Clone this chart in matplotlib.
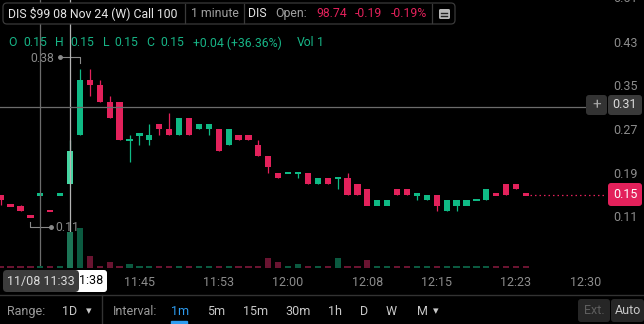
import matplotlib
matplotlib.use("Agg")
import matplotlib.pyplot as plt
from matplotlib.patches import FancyBboxPatch, Rectangle

plt.rcParams["font.family"] = ["Roboto", "DejaVu Sans"]

W, H = 644, 324

# ---------------------------------------------------------------------------
# data: 1-minute candles (one per minute from the left edge), volume
# ---------------------------------------------------------------------------
opens = [0.15, 0.13, 0.13, 0.11, 0.15, 0.12, 0.15, 0.17, 0.26, 0.36,
         0.35, 0.32, 0.32, 0.25, 0.26, 0.25, 0.28, 0.27, 0.26, 0.29,
         0.27, 0.27, 0.27, 0.24, 0.26, 0.26, 0.24, 0.22, 0.19, 0.19,
         0.19, 0.19, 0.17, 0.18, 0.18, 0.18, 0.17, 0.16, 0.13, 0.13,
         0.16, 0.16, 0.15, 0.14, 0.15, 0.12, 0.13, 0.13, 0.14, 0.14,
         0.15, 0.17, 0.17, 0.15]
highs = [0.15, 0.13, 0.13, 0.11, 0.15, 0.12, 0.15, 0.25, 0.38, 0.38,
         0.36, 0.33, 0.32, 0.26, 0.26, 0.28, 0.28, 0.30, 0.29, 0.29,
         0.28, 0.28, 0.27, 0.27, 0.26, 0.26, 0.25, 0.22, 0.19, 0.19,
         0.19, 0.19, 0.18, 0.18, 0.18, 0.19, 0.17, 0.16, 0.14, 0.14,
         0.16, 0.16, 0.15, 0.15, 0.15, 0.14, 0.14, 0.14, 0.14, 0.16,
         0.15, 0.17, 0.17, 0.15]
lows = [0.13, 0.13, 0.12, 0.11, 0.15, 0.12, 0.15, 0.17, 0.26, 0.33,
        0.32, 0.29, 0.25, 0.21, 0.24, 0.24, 0.26, 0.26, 0.26, 0.26,
        0.27, 0.26, 0.23, 0.24, 0.25, 0.25, 0.22, 0.19, 0.18, 0.19,
        0.18, 0.17, 0.17, 0.17, 0.16, 0.15, 0.15, 0.13, 0.13, 0.13,
        0.15, 0.15, 0.14, 0.14, 0.12, 0.12, 0.12, 0.13, 0.14, 0.14,
        0.15, 0.15, 0.16, 0.15]
closes = [0.14, 0.13, 0.12, 0.11, 0.15, 0.12, 0.15, 0.23, 0.36, 0.35,
          0.32, 0.29, 0.25, 0.25, 0.26, 0.26, 0.27, 0.26, 0.29, 0.26,
          0.28, 0.28, 0.23, 0.27, 0.25, 0.25, 0.22, 0.20, 0.18, 0.19,
          0.19, 0.17, 0.18, 0.17, 0.18, 0.15, 0.15, 0.13, 0.14, 0.14,
          0.15, 0.15, 0.15, 0.15, 0.13, 0.14, 0.14, 0.14, 0.14, 0.16,
          0.15, 0.15, 0.16, 0.15]
volumes = [1, 1, 1, 1, 1, 1, 1, 18, 20, 6,
           1, 3, 1, 2, 1, 1, 1, 1, 1, 1,
           1, 1, 1, 1, 1, 1, 1, 5, 3, 1,
           2, 1, 1, 1, 5, 1, 1, 4, 1, 1,
           1, 1, 1, 1, 1, 1, 1, 1, 1, 1,
           1, 1, 1, 1]

price_ticks = [0.11, 0.19, 0.27, 0.35, 0.43]
time_tick_pos = [14, 22, 29, 37, 44, 52, 59]
time_tick_labels = ["11:45", "11:53", "12:00", "12:08", "12:15", "12:23", "12:30"]

hover_idx = 4          # crosshair candle (11:33)
marker_idx = 7         # highlighted candle (11:38)
cross_price = 0.31
last_price = 0.15
high_idx, low_idx = 8, 3

GREEN = "#0fba85"
RED = "#e3215b"
GREEN_HI = "#45d6a2"
VOL_GREEN = "#0b5a40"
VOL_RED = "#6a1431"
VOL_GREEN_HI = "#1c7556"
GREY = "#8c8c8c"

# pixel <-> data helpers for the price panel
PX_PER_BAR, X0 = 9.91, 0.7
PX_PER_UNIT, Y43 = 546.0, 41.7


def px2idx(p):
    return (p - X0) / PX_PER_BAR


def py2price(p):
    return 0.43 - (p - Y43) / PX_PER_UNIT


fig = plt.figure(figsize=(W / 100, H / 100), dpi=100, facecolor="black")

ax = fig.add_axes([0, 1 - 268 / H, 605 / W, 268 / H])
ax.set_facecolor("black")
ax.set_xlim(px2idx(0), px2idx(605))
ax.set_ylim(py2price(268), py2price(0))
for s in ax.spines.values():
    s.set_visible(False)

# candle colours: up if close > open, doji compared with previous close
colors, vcolors = [], []
for i, (o, c) in enumerate(zip(opens, closes)):
    prev = closes[i - 1] if i else o
    up = c > o or (c == o and c >= prev)
    colors.append(GREEN if up else RED)
    vcolors.append(VOL_GREEN if up else VOL_RED)
colors[marker_idx] = GREEN_HI
vcolors[marker_idx] = VOL_GREEN_HI

xs = list(range(len(opens)))
min_h = 2.2 / PX_PER_UNIT
bottoms, heights = [], []
for o, c in zip(opens, closes):
    h = abs(c - o)
    if h < min_h:
        bottoms.append(c - min_h / 2)
        heights.append(min_h)
    else:
        bottoms.append(min(o, c))
        heights.append(h)

ax.vlines(xs, lows, highs, colors=colors, lw=0.9, zorder=2)
ax.bar(xs, heights, bottom=bottoms, width=0.63, color=colors, zorder=3)

# volume on a twin scale, 1 contract = 2 px
axv = ax.twinx()
axv.set_ylim(0, 134)
axv.bar(xs, volumes, width=0.63, color=vcolors, zorder=1)
axv.axis("off")

# crosshair + time marker
ax.axvline(hover_idx, color="#6c6c6c", lw=0.9, zorder=4)
ax.axvline(marker_idx, color="#b4b4b4", lw=0.9, zorder=4)
ax.axhline(cross_price, xmin=0, xmax=586 / 605, color="#6c6c6c", lw=0.9, zorder=4)

# last price dotted line
ax.plot([len(opens) - 1 + 0.45, px2idx(605)], [last_price, last_price],
        color=RED, lw=0.9, ls=(0, (1.2, 2.4)), zorder=2)

# high / low bubbles
dp = 1 / PX_PER_UNIT
hy = highs[high_idx]
ax.plot([high_idx + 0.05, high_idx + 0.05, high_idx - 2.05],
        [hy + 6 * dp, hy + 12 * dp, hy + 12 * dp], color="#8a8a8a", lw=0.8)
ax.plot(high_idx - 2.05, hy + 12 * dp, "o", color="#8a8a8a", ms=2.5)
ax.text(high_idx - 2.65, hy + 11 * dp, "0.38", color="#8a8a8a", fontsize=8.8,
        ha="right", va="center")
ly = lows[low_idx]
ax.plot([low_idx - 0.05, low_idx - 0.05, low_idx + 2.05],
        [ly - 5.5 * dp, ly - 11 * dp, ly - 11 * dp], color="#8a8a8a", lw=0.8)
ax.plot(low_idx + 2.05, ly - 11 * dp, "o", color="#8a8a8a", ms=2.5)
ax.text(low_idx + 2.55, ly - 11 * dp, "0.11", color="#8a8a8a", fontsize=8.8,
        ha="left", va="center")

# axes ticks
ax.yaxis.tick_right()
ax.set_yticks(price_ticks)
ax.set_yticklabels([f"{v:.2f}" for v in price_ticks])
ax.tick_params(axis="y", length=0, pad=5.8, labelsize=9, labelcolor=GREY)
ax.set_xticks(time_tick_pos)
ax.set_xticklabels(time_tick_labels)
ax.tick_params(axis="x", length=0, pad=6, labelsize=9, labelcolor=GREY)

# ---------------------------------------------------------------------------
# UI chrome overlay in pixel coordinates
# ---------------------------------------------------------------------------
ui = fig.add_axes([0, 0, 1, 1], zorder=10)
ui.set_xlim(0, W)
ui.set_ylim(H, 0)
ui.axis("off")
ui.patch.set_alpha(0)


def box(x, y, w, h, fc, ec="none", r=3, lw=1):
    ui.add_patch(FancyBboxPatch((x, y), w, h, boxstyle=f"round,pad=0,rounding_size={r}",
                                fc=fc, ec=ec, lw=lw))


def txt(x, y, s, color, ha="left", size=9):
    ui.text(x, y, s, color=color, fontsize=size, ha=ha, va="center")


# header
box(3, 3, 452, 21, "black", ec="#3a3a3a", r=4, lw=0.9)
for sx in (185, 244, 432):
    ui.plot([sx, sx], [4, 23], color="#3a3a3a", lw=0.9)
hy0 = 13.5
txt(8, hy0, "DIS $99 08 Nov 24 (W) Call 100", "#e6e6e6", size=8.8)
txt(191, hy0, "1 minute", "#a0a0a0", size=8.8)
txt(248, hy0, "DIS", "#e6e6e6", size=8.8)
txt(275, hy0, "Open:", "#a0a0a0", size=8.8)
txt(316, hy0, "98.74", RED, size=8.8)
txt(355, hy0, "-0.19", RED, size=8.8)
txt(391, hy0, "-0.19%", RED, size=8.8)
box(439, 9, 11, 10, "#b8b8b8", r=1.5)
for ly_ in (12.5, 15.5):
    ui.plot([441.5, 447.5], [ly_, ly_], color="#222222", lw=1)

# OHLC readout
oy = 43
for x, s in [(8, "O"), (23, "0.15"), (55, "H"), (70, "0.15"), (103, "L"),
             (114, "0.15"), (146, "C"), (160, "0.15"), (193, "+0.04 (+36.36%)"),
             (297, "Vol"), (317, "1")]:
    txt(x, oy, s, "#17b486", size=8.8)

# price axis overlays
txt(613, -2, "0.51", GREY)
box(586, 95, 21, 20, "#333333", r=3)
txt(596.5, 105, "+", "#a8a8a8", ha="center", size=11)
box(608, 95, 34, 20, "#3a3a3a", r=3)
txt(625, 105, "0.31", "#dcdcdc", ha="center")
box(608, 183, 34, 23, RED, r=3)
txt(625, 194.5, "0.15", "white", ha="center")

# time axis overlays (the 11:38 marker label sits partly under the crosshair label)
box(62, 270, 45, 22, "white", r=3)
txt(103, 281, "1:38", "black", ha="right")
box(3, 270, 76, 22, "#3c3c3c", r=4)
txt(41, 281, "11/08 11:33", "#dcdcdc", ha="center")

# toolbar
ui.plot([0, W], [295, 295], color="#333333", lw=1)
ui.plot([102, 102], [295, 324], color="#333333", lw=1)
ty = 311.5
txt(7, ty, "Range:", "#9a9a9a")
txt(62, ty, "1D", "#c8c8c8")
txt(88.5, ty, "\u25be", "#c8c8c8", ha="center", size=8)
txt(113, ty, "Interval:", "#9a9a9a")
txt(171, ty, "1m", "#2d9cf0")
ui.add_patch(Rectangle((171, 321), 16, 3, color="#2d9cf0"))
for x, s in [(207, "5m"), (243, "15m"), (285, "30m"), (328, "1h"),
             (360, "D"), (386, "W"), (417, "M")]:
    txt(x, ty, s, "#c8c8c8")
txt(436, ty, "\u25be", "#c8c8c8", ha="center", size=8)
box(578, 299, 32, 23, "#262626", r=3)
txt(594, 310.5, "Ext.", "#5e5e5e", ha="center")
box(611, 299, 33, 23, "#262626", r=3)
txt(628, 310.5, "Auto", "#c8c8c8", ha="center")

fig.savefig("out.png", dpi=100, facecolor="black")
